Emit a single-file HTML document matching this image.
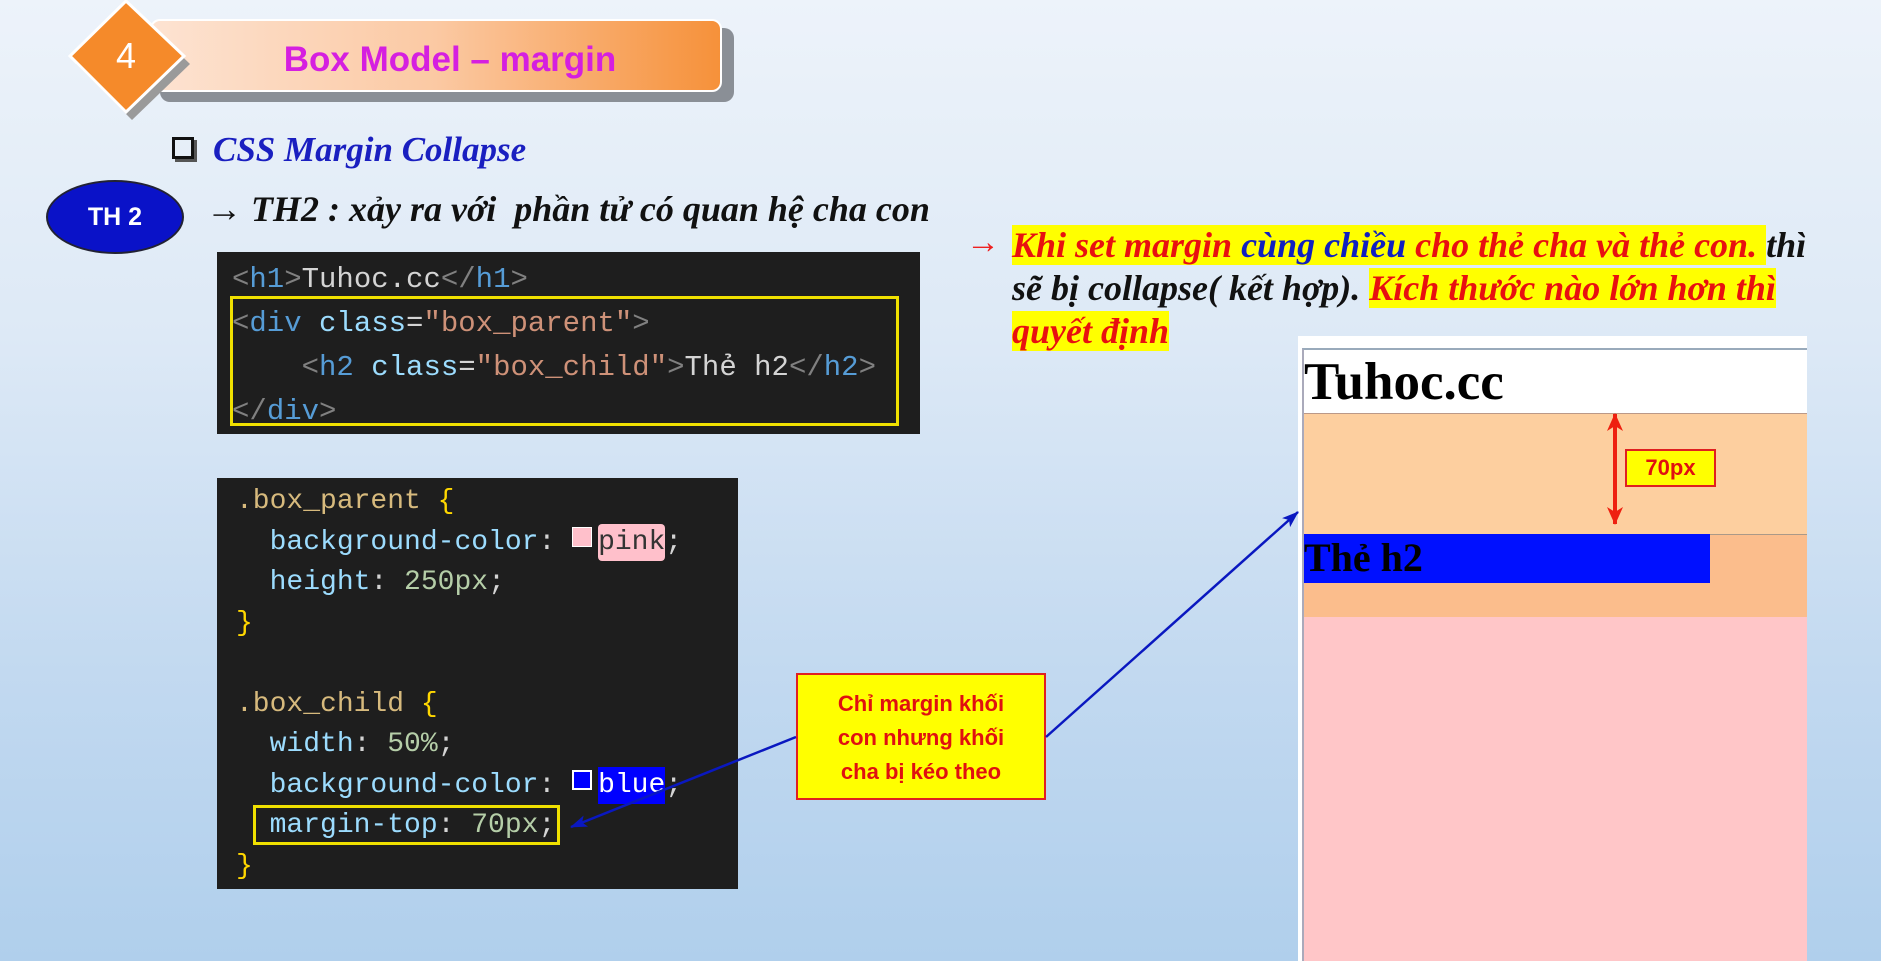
<!DOCTYPE html>
<html><head><meta charset="utf-8"><style>
*{margin:0;padding:0;box-sizing:border-box}
body{width:1881px;height:961px;overflow:hidden;position:relative;background:linear-gradient(180deg,#edf3fa 0%,#dde9f6 35%,#c2d9f0 70%,#b0cfec 100%);font-family:"Liberation Sans","Noto Sans CJK SC",sans-serif}
.a{position:absolute}
.serif{font-family:"Liberation Serif","Noto Serif CJK SC",serif;font-style:italic;font-weight:bold;white-space:nowrap;transform-origin:0 0}
.mono{font-family:"Liberation Mono","DejaVu Sans Mono",monospace;font-size:28px;white-space:pre;color:#d4d4d4;transform-origin:0 0}
.g{color:#808080}.t{color:#569cd6}.at{color:#9cdcfe}.s{color:#ce9178}.sel{color:#d7ba7d}.br{color:#ffd700}.n{color:#b5cea8}
.hl{background:#ff0}
.sw{display:inline-block;width:20px;height:20px;border:1px solid #fff;vertical-align:2px;margin-right:6px}
</style></head><body>
<!-- banner -->
<div class="a" style="left:160px;top:28px;width:574px;height:74px;background:#8a8f96;border-radius:10px"></div>
<div class="a" style="left:150px;top:19px;width:572px;height:73px;border-radius:10px;border:2px solid #fff;background:linear-gradient(90deg,#fde3d2 0%,#fbc9a3 50%,#f6913a 100%)"></div>
<div class="a" style="left:150px;top:40px;width:572px;text-align:center;padding-left:28px;font-size:35px;font-weight:bold;color:#d51fe0">Box Model – margin</div>
<svg class="a" style="left:66px;top:0" width="130" height="124"><polygon points="66,8 124,64 66,120 10,64" fill="#9a9a9a"/><polygon points="60,1 118,56 60,112 4,56" fill="#f58a2a" stroke="#fff" stroke-width="3"/><text x="60" y="68" font-size="36" fill="#fff" text-anchor="middle" font-family="Liberation Sans">4</text></svg>
<!-- heading -->
<div class="a" style="left:172px;top:137px;width:22px;height:22px;border:3px solid #111;box-shadow:3px 3px 0 #555"></div>
<div class="a serif" style="left:213px;top:130px;font-size:35px;color:#1a1fc0">CSS Margin Collapse</div>
<div class="a" style="left:46px;top:180px;width:138px;height:74px;border-radius:50%;background:#0a12c8;border:2px solid #223;color:#fff;font-weight:bold;font-size:25px;text-align:center;line-height:70px">TH 2</div>
<div class="a serif" style="left:206px;top:188px;font-size:36px;color:#111">→ TH2 : xảy ra với&nbsp; phần tử có quan hệ cha con</div>
<!-- code 1 -->
<div class="a" style="left:217px;top:252px;width:703px;height:182px;background:#1e1e1e"></div>
<div class="a" style="left:230px;top:296px;width:669px;height:130px;border:3px solid #f0e000"></div>
<div class="a mono" style="left:232px;top:258px;line-height:44px;font-size:29px"><span class="g">&lt;</span><span class="t">h1</span><span class="g">&gt;</span>Tuhoc.cc<span class="g">&lt;/</span><span class="t">h1</span><span class="g">&gt;</span>
<span class="g">&lt;</span><span class="t">div</span> <span class="at">class</span>=<span class="s">"box_parent"</span><span class="g">&gt;</span>
    <span class="g">&lt;</span><span class="t">h2</span> <span class="at">class</span>=<span class="s">"box_child"</span><span class="g">&gt;</span>Thẻ h2<span class="g">&lt;/</span><span class="t">h2</span><span class="g">&gt;</span>
<span class="g">&lt;/</span><span class="t">div</span><span class="g">&gt;</span></div>
<!-- code 2 -->
<div class="a" style="left:217px;top:478px;width:521px;height:411px;background:#1e1e1e"></div>
<div class="a" style="left:253px;top:805px;width:307px;height:40px;border:3px solid #f0e000"></div>
<div class="a mono" style="left:236px;top:482px;line-height:40.5px"><span class="sel">.box_parent</span> <span class="br">{</span>
  <span class="at">background-color</span>: <span class="sw" style="background:#ffc0cb"></span><span style="color:#333;background:#ffc0cb;border-radius:4px;padding:3px 0">pink</span>;
  <span class="at">height</span>: <span class="n">250px</span>;
<span class="br">}</span>

<span class="sel">.box_child</span> <span class="br">{</span>
  <span class="at">width</span>: <span class="n">50%</span>;
  <span class="at">background-color</span>: <span class="sw" style="background:#00f;border-width:2px"></span><span style="color:#fff;background:#00f;padding:3px 0">blue</span>;
  <span class="at">margin-top</span>: <span class="n">70px</span>;
<span class="br">}</span></div>
<!-- callout -->
<div class="a" style="left:796px;top:673px;width:250px;height:127px;background:#ffff00;border:2px solid #e02020;color:#e01010;font-weight:bold;font-size:22px;line-height:34px;text-align:center;padding-top:12px">Chỉ margin khối<br>con nhưng khối<br>cha bị kéo theo</div>
<!-- right text -->
<div class="a serif" style="left:966px;top:224px;font-size:34px;color:#ee2020;font-style:normal">→</div>
<div class="a serif" style="left:1012px;top:224px;font-size:36px;line-height:43px"><span class="hl" style="color:#e81010">Khi set margin <span style="color:#1020c0">cùng chiều</span> cho thẻ cha và thẻ con. </span><span style="color:#111">thì</span><br><span style="color:#111">sẽ bị collapse( kết hợp). </span><span class="hl" style="color:#e81010">Kích thước nào lớn hơn thì</span><br><span class="hl" style="color:#e81010">quyết định</span></div>
<!-- browser -->
<div class="a" style="left:1298px;top:336px;width:509px;height:625px;background:#fff"></div>
<div class="a" style="left:1302px;top:348px;width:505px;height:613px;border-left:2px solid #aab;border-top:2px solid #9ab;background:#ffc6c8"></div>
<div class="a" style="left:1304px;top:350px;width:503px;height:63px;background:#fff"></div>
<div class="a" style="left:1304px;top:413px;width:503px;height:121px;background:#fdcf9f;border-top:1px solid #b98"></div>
<div class="a" style="left:1304px;top:534px;width:503px;height:83px;background:#fbbd8c;border-top:1px solid #a98"></div>
<div class="a" style="left:1304px;top:534px;width:406px;height:49px;background:#0010ff"></div>
<div class="a" style="left:1304px;top:352px;font-family:'Liberation Serif',serif;font-weight:bold;font-size:53px;color:#000">Tuhoc.cc</div>
<div class="a" style="left:1304px;top:534px;font-family:'Liberation Serif',serif;font-weight:bold;font-size:40px;color:#000">Thẻ h2</div>
<svg class="a" style="left:0;top:0" width="1881" height="961">
<defs><marker id="r" markerUnits="userSpaceOnUse" markerWidth="18" markerHeight="18" refX="17" refY="9" orient="auto-start-reverse"><path d="M0,1 L18,9 L0,17 L5,9z" fill="#ee2010"/></marker>
<marker id="b" markerUnits="userSpaceOnUse" markerWidth="18" markerHeight="14" refX="16" refY="7" orient="auto"><path d="M0,1 L17,7 L0,13 L4,7z" fill="#0a18c0"/></marker></defs>
<line x1="1615" y1="414" x2="1615" y2="524" stroke="#ee2010" stroke-width="4" marker-start="url(#r)" marker-end="url(#r)"/>
<line x1="796" y1="737" x2="571" y2="827" stroke="#0a18c0" stroke-width="2.5" marker-end="url(#b)"/>
<line x1="1046" y1="737" x2="1298" y2="512" stroke="#0a18c0" stroke-width="2.5" marker-end="url(#b)"/>
</svg>
<div class="a" style="left:1625px;top:449px;width:91px;height:38px;background:#ffff00;border:2px solid #e02020;color:#e01010;font-weight:bold;font-size:22px;text-align:center;line-height:34px">70px</div>
</body></html>
